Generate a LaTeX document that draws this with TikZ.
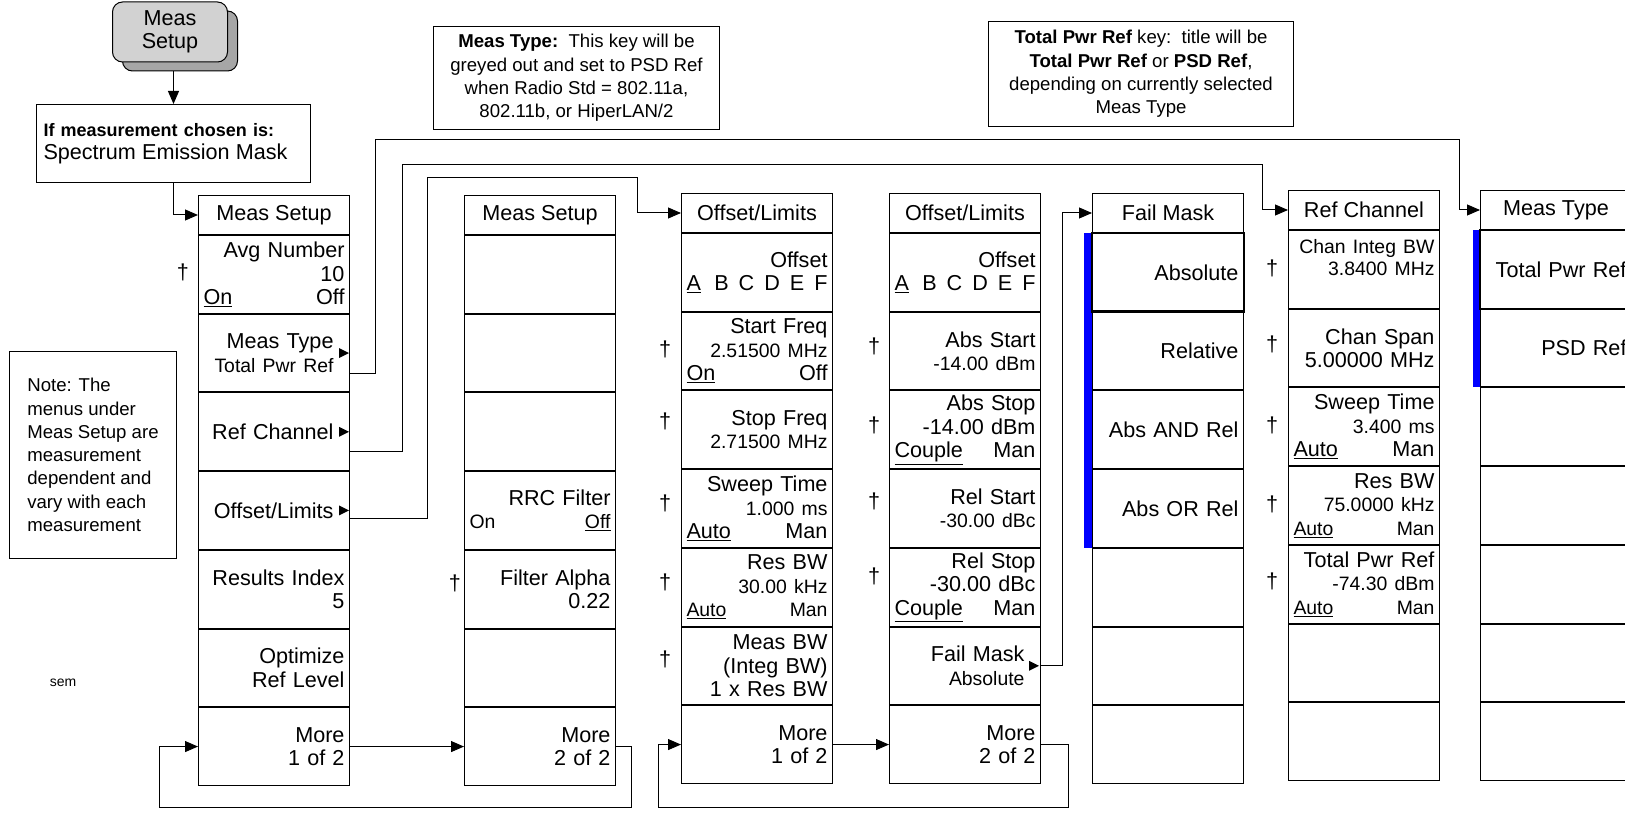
\documentclass[tikz,border=0pt]{standalone}
\usepackage{fontspec}
\setmainfont{Liberation Sans}
\usetikzlibrary{arrows.meta,positioning}

% type sizes (the picture is drawn with 1pt = 1 pixel)
\newcommand{\keyfont}{\fontsize{21.6}{23.5}\selectfont}
\newcommand{\valfont}{\fontsize{19.4}{22}\selectfont}
\newcommand{\notefont}{\fontsize{18.6}{23.3}\selectfont}
\newcommand{\subgap}{\kern11pt}
\newcommand{\offsets}{\underline{A}\hfill B\hspace{10pt}C\hspace{10pt}D\hspace{10pt}E\hspace{10pt}F}

\begin{document}
\begin{tikzpicture}[x=1pt, y=-1pt, line width=1pt, node distance=0pt,
    menutitle/.style={draw, anchor=north west, minimum width=151pt, minimum height=39pt, inner sep=0pt, font=\keyfont},
    softkey/.style={draw, minimum width=151pt, minimum height=77.7pt, text width=141pt, inner xsep=5pt, inner ysep=0pt, align=right, font=\keyfont},
    notebox/.style={draw, anchor=north west, inner sep=0pt, align=center, font=\notefont},
    dagmark/.style={font=\keyfont, inner sep=0pt},
    flow/.style={-{Triangle[length=13pt, width=11pt]}},
  ]
  \useasboundingbox (0,0) rectangle (1625,813);

  % hard key
  \node[draw, fill=gray!70, rounded corners=10pt, minimum width=115pt, minimum height=60pt] (hkback) at (180,41) {};
  \node[draw, fill=gray!35, rounded corners=10pt, minimum width=115pt, minimum height=60pt, inner sep=0pt, align=center, font=\keyfont] (hk) at (170,32) {Meas\\Setup};

  % notes
  \node[notebox, align=left, text width=260pt, inner xsep=7pt, minimum height=78pt] (ifbox) at (36,104)
    {{\fontsize{18}{23}\selectfont\bfseries If measurement chosen is:}\\{\keyfont Spectrum Emission Mask}};
  \node[notebox, align=left, minimum width=167pt, minimum height=207pt] (memo) at (9,351)
    {Note: The\\menus under\\Meas Setup are\\measurement\\dependent and\\vary with each\\measurement};
  \node[notebox, minimum width=286pt, minimum height=103pt] (mtnote) at (433,26)
    {\textbf{Meas Type:}\ \ This key will be\\greyed out and set to PSD Ref\\when Radio Std = 802.11a,\\802.11b, or HiperLAN/2};
  \node[notebox, minimum width=305pt, minimum height=105pt] (tpnote) at (988,21)
    {\textbf{Total Pwr Ref} key:\ \ title will be\\\textbf{Total Pwr Ref} or \textbf{PSD Ref},\\depending on currently selected\\Meas Type};
  \node[font=\fontsize{14}{16}\selectfont] (sem) at (63,683) {sem};

  % Meas Setup, 1 of 2
  \node[menutitle] (c1t) at (198,195) {Meas Setup};
  \node[softkey, below=of c1t] (c1k1) {Avg Number\\10\\\underline{On}\hfill Off};
  \node[softkey, below=of c1k1] (c1k2) {Meas Type\subgap\\{\valfont Total Pwr Ref\subgap}};
  \node[softkey, below=of c1k2] (c1k3) {Ref Channel\subgap};
  \node[softkey, below=of c1k3] (c1k4) {Offset/Limits\subgap};
  \node[softkey, below=of c1k4] (c1k5) {Results Index\\5};
  \node[softkey, below=of c1k5] (c1k6) {Optimize\\Ref Level};
  \node[softkey, below=of c1k6] (c1k7) {More\\1 of 2};

  % Meas Setup, 2 of 2
  \node[menutitle] (c2t) at (464,195) {Meas Setup};
  \node[softkey, below=of c2t] (c2k1) {};
  \node[softkey, below=of c2k1] (c2k2) {};
  \node[softkey, below=of c2k2] (c2k3) {};
  \node[softkey, below=of c2k3] (c2k4) {RRC Filter\\{\valfont On\hfill\underline{Off}}};
  \node[softkey, below=of c2k4] (c2k5) {Filter Alpha\\0.22};
  \node[softkey, below=of c2k5] (c2k6) {};
  \node[softkey, below=of c2k6] (c2k7) {More\\2 of 2};

  % Offset/Limits, 1 of 2
  \node[menutitle] (c3t) at (681,193) {Offset/Limits};
  \node[softkey, below=of c3t] (c3k1) {Offset\\\offsets};
  \node[softkey, below=of c3k1] (c3k2) {Start Freq\\{\valfont 2.51500 MHz}\\\underline{On}\hfill Off};
  \node[softkey, below=of c3k2] (c3k3) {Stop Freq\\{\valfont 2.71500 MHz}};
  \node[softkey, below=of c3k3] (c3k4) {Sweep Time\\{\valfont 1.000 ms}\\\underline{Auto}\hfill Man};
  \node[softkey, below=of c3k4] (c3k5) {Res BW\\{\valfont 30.00 kHz}\\{\valfont\underline{Auto}\hfill Man}};
  \node[softkey, below=of c3k5] (c3k6) {Meas BW\\(Integ BW)\\1 x Res BW};
  \node[softkey, below=of c3k6] (c3k7) {More\\1 of 2};

  % Offset/Limits, 2 of 2
  \node[menutitle] (c4t) at (889,193) {Offset/Limits};
  \node[softkey, below=of c4t] (c4k1) {Offset\\\offsets};
  \node[softkey, below=of c4k1] (c4k2) {Abs Start\\{\valfont -14.00 dBm}};
  \node[softkey, below=of c4k2] (c4k3) {Abs Stop\\-14.00 dBm\\\underline{Couple}\hfill Man};
  \node[softkey, below=of c4k3] (c4k4) {Rel Start\\{\valfont -30.00 dBc}};
  \node[softkey, below=of c4k4] (c4k5) {Rel Stop\\-30.00 dBc\\\underline{Couple}\hfill Man};
  \node[softkey, below=of c4k5] (c4k6) {Fail Mask\subgap\\{\valfont Absolute\subgap}};
  \node[softkey, below=of c4k6] (c4k7) {More\\2 of 2};

  % Fail Mask
  \node[menutitle] (c5t) at (1092,193) {Fail Mask};
  \node[softkey, below=of c5t] (c5k1) {Absolute};
  \node[softkey, below=of c5k1] (c5k2) {Relative};
  \node[softkey, below=of c5k2] (c5k3) {Abs AND Rel};
  \node[softkey, below=of c5k3] (c5k4) {Abs OR Rel};
  \node[softkey, below=of c5k4] (c5k5) {};
  \node[softkey, below=of c5k5] (c5k6) {};
  \node[softkey, below=of c5k6] (c5k7) {};

  % Ref Channel
  \node[menutitle] (c6t) at (1288,190) {Ref Channel};
  \node[softkey, below=of c6t] (c6k1) {\valfont Chan Integ BW\\3.8400 MHz\\\mbox{}};
  \node[softkey, below=of c6k1] (c6k2) {Chan Span\\5.00000 MHz};
  \node[softkey, below=of c6k2] (c6k3) {Sweep Time\\{\valfont 3.400 ms}\\\underline{Auto}\hfill Man};
  \node[softkey, below=of c6k3] (c6k4) {Res BW\\{\valfont 75.0000 kHz}\\{\valfont\underline{Auto}\hfill Man}};
  \node[softkey, below=of c6k4] (c6k5) {Total Pwr Ref\\{\valfont -74.30 dBm}\\{\valfont\underline{Auto}\hfill Man}};
  \node[softkey, below=of c6k5] (c6k6) {};
  \node[softkey, below=of c6k6] (c6k7) {};

  % Meas Type
  \node[menutitle] (c7t) at (1480,190) {Meas Type};
  \node[softkey, below=of c7t] (c7k1) {Total Pwr Ref};
  \node[softkey, below=of c7k1] (c7k2) {PSD Ref};
  \node[softkey, below=of c7k2] (c7k3) {};
  \node[softkey, below=of c7k3] (c7k4) {};
  \node[softkey, below=of c7k4] (c7k5) {};
  \node[softkey, below=of c7k5] (c7k6) {};
  \node[softkey, below=of c7k6] (c7k7) {};

  % selected choices
  \fill[blue] ([xshift=-8pt]c5k1.north west) rectangle (c5k4.south west);
  \draw[line width=2.5pt] (c5k1.north west) rectangle (c5k1.south east);
  \fill[blue] ([xshift=-7pt]c7k1.north west) rectangle (c7k2.south west);
  \draw[line width=2pt] (c7k1.north west) rectangle (c7k1.south east);

  % submenu marks
  \foreach \k in {c1k2,c1k3,c1k4}
    \fill ([xshift=-11pt,yshift=5pt]\k.east) -- ++(10,5) -- ++(-10,5) -- cycle;
  \fill ([xshift=-12pt,yshift=5pt]c4k6.east) -- ++(10,5) -- ++(-10,5) -- cycle;

  % daggers
  \node[dagmark] (c1d1) at ([xshift=-15pt,yshift=2pt]c1k1.west) {\dag};
  \node[dagmark] (c2d5) at ([xshift=-9pt,yshift=6pt]c2k5.west) {\dag};
  \foreach \k/\dy in {2/2,3/8,4/5,5/5,6/6}
    \node[dagmark] (c3d\k) at ([xshift=-16pt,yshift=\dy pt]c3k\k.west) {\dag};
  \foreach \k/\dy in {2/5,3/4,4/7,5/11}
    \node[dagmark] (c4d\k) at ([xshift=-15pt,yshift=\dy pt]c4k\k.west) {\dag};
  \foreach \k/\dy in {1/1,2/4,3/1,4/1,5/3}
    \node[dagmark] (c6d\k) at ([xshift=-16pt,yshift=\dy pt]c6k\k.west) {\dag};

  % connectors
  \draw[flow] (ifbox.north |- hkback.south) -- (ifbox.north);
  \draw[flow] (ifbox.south) |- (c1t.west);
  \coordinate (mtbend) at (375,140);
  \draw[flow] ([yshift=-20pt]c1k2.east) -| (mtbend) -| ([xshift=-21pt]c7t.west) -- (c7t.west);
  \coordinate (rcbend) at (402,165);
  \draw[flow] ([yshift=-20pt]c1k3.east) -| (rcbend) -| ([xshift=-26pt]c6t.west) -- (c6t.west);
  \coordinate (olbend) at (427,178);
  \draw[flow] ([yshift=-8pt]c1k4.east) -| (olbend) -| ([xshift=-44pt]c3t.west) -- (c3t.west);
  \draw[flow] (c4k6.east) -| ([xshift=-30pt]c5t.west) -- (c5t.west);
  \draw[flow] (c1k7.east) -- (c2k7.west);
  \coordinate (back1) at (631,807);
  \draw[flow] (c2k7.east) -| (back1) -| ([xshift=-39pt]c1k7.west) -- (c1k7.west);
  \draw[flow] (c3k7.east) -- (c4k7.west);
  \coordinate (back2) at (1068,807);
  \draw[flow] (c4k7.east) -| (back2) -| ([xshift=-23pt]c3k7.west) -- (c3k7.west);
\end{tikzpicture}
\end{document}
